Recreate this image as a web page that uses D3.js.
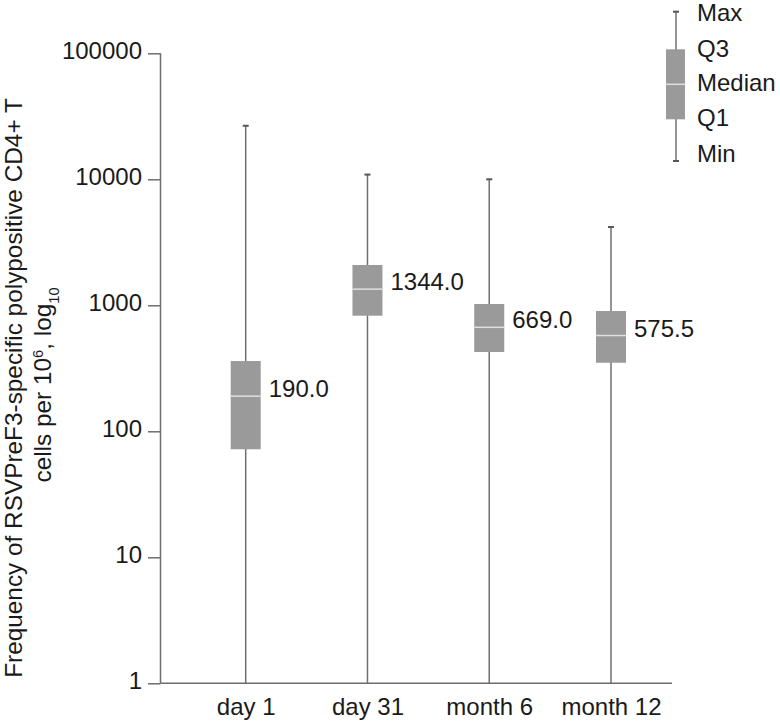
<!DOCTYPE html>
<html><head><meta charset="utf-8">
<script src="https://cdn.jsdelivr.net/npm/d3@7"></script>
<style>body{margin:0;background:#fff}svg{display:block}text{font-family:"Liberation Sans",Arial,sans-serif;fill:#1a1a1a}</style>
</head><body><svg id="c" width="780" height="724"></svg>
<script>
const categories = ["day 1", "day 31", "month 6", "month 12"];
const minVals    = [1, 1, 1, 1];
const q1Vals     = [72, 827, 426, 350];
const medianVals = [190.0, 1344.0, 669.0, 575.5];
const q3Vals     = [361, 2089, 1024, 901];
const maxVals    = [26600, 10900, 10000, 4180];
const yTicks     = [1, 10, 100, 1000, 10000, 100000];
const legendLabels = ["Max", "Q3", "Median", "Q1", "Min"];

const svg = d3.select("#c");
const axisX = 160.5, yBottom = 683.3, yTop = 53.3;
const y = d3.scaleLog().domain([1, 100000]).range([yBottom, yTop]);
const x = d3.scalePoint().domain(categories).range([245.7, 611]);
const axisColor = "#6e6e6e", boxColor = "#9a9a9a", whiskerColor = "#707070";
const fs = 24;

// y axis
const yAxis = d3.axisLeft(y).tickValues(yTicks).tickFormat(d3.format("d")).tickSize(12.5).tickPadding(6);
const gy = svg.append("g").attr("transform", `translate(${axisX},0)`).call(yAxis);
gy.select(".domain").attr("d", `M0,${yTop}V${yBottom}`).attr("stroke", axisColor).attr("stroke-width", 1.5);
gy.selectAll(".tick line").attr("stroke", axisColor).attr("stroke-width", 1.5);
gy.selectAll(".tick text").attr("font-size", fs).attr("dy", "0.2em").style("font-family", "Liberation Sans, Arial, sans-serif").attr("fill", "#1a1a1a");

// x axis
const xAxis = d3.axisBottom(x).tickSize(0).tickPadding(0);
const gx = svg.append("g").attr("transform", `translate(0,${yBottom})`).call(xAxis);
gx.select(".domain").attr("d", `M${axisX},0H672`).attr("stroke", axisColor).attr("stroke-width", 1.5);
gx.selectAll(".tick text").attr("font-size", fs).attr("y", 32).attr("dy", 0).style("font-family", "Liberation Sans, Arial, sans-serif").attr("fill", "#1a1a1a");

// boxes
const data = categories.map((c, i) => ({c, min: minVals[i], q1: q1Vals[i], med: medianVals[i], q3: q3Vals[i], max: maxVals[i]}));
const bw = 30, cw = 6;
const g = svg.append("g");
data.forEach(d => {
  const cx = x(d.c);
  g.append("line").attr("x1", cx).attr("x2", cx).attr("y1", y(d.min)).attr("y2", y(d.max)).attr("stroke", whiskerColor).attr("stroke-width", 1.5);
  g.append("line").attr("x1", cx - cw/2).attr("x2", cx + cw/2).attr("y1", y(d.max)).attr("y2", y(d.max)).attr("stroke", "#555").attr("stroke-width", 2);
  g.append("rect").attr("x", cx - bw/2).attr("width", bw).attr("y", y(d.q3)).attr("height", y(d.q1) - y(d.q3)).attr("fill", boxColor);
  g.append("line").attr("x1", cx - bw/2).attr("x2", cx + bw/2).attr("y1", y(d.med)).attr("y2", y(d.med)).attr("stroke", "#e0e0e0").attr("stroke-width", 1.5);
  g.append("text").attr("x", cx + bw/2 + 8).attr("y", y(d.med) + 1).attr("font-size", fs).text(d3.format(".1f")(d.med));
});

// legend (schematic)
const lg = svg.append("g");
const lx = 676, lTop = 11.7, lQ3 = 49.3, lMed = 84.3, lQ1 = 119.3, lBot = 161;
lg.append("line").attr("x1", lx).attr("x2", lx).attr("y1", lTop).attr("y2", lBot).attr("stroke", whiskerColor).attr("stroke-width", 1.5);
[lTop, lBot].forEach(v => lg.append("line").attr("x1", lx - 3).attr("x2", lx + 3).attr("y1", v).attr("y2", v).attr("stroke", "#555").attr("stroke-width", 2));
lg.append("rect").attr("x", 666).attr("width", 19).attr("y", lQ3).attr("height", lQ1 - lQ3).attr("fill", boxColor);
lg.append("line").attr("x1", 666).attr("x2", 685).attr("y1", lMed).attr("y2", lMed).attr("stroke", "#e0e0e0").attr("stroke-width", 1.5);
const ly = [12, 48, 82, 117, 153];
legendLabels.forEach((t, i) => lg.append("text").attr("x", 697).attr("y", ly[i]).attr("dy", "0.36em").attr("font-size", fs).text(t));

// y title: size fitted so line 1 spans the reference length
const tt = svg.append("text").attr("transform", "translate(21.5,388) rotate(-90)").attr("text-anchor", "middle").attr("font-size", 20);
tt.text("Frequency of RSVPreF3-specific polypositive CD4+ T");
const len20 = tt.node().getComputedTextLength();
const tfs = Math.min(27, 20 * 580 / len20);
tt.attr("font-size", tfs);
const t2 = svg.append("text").attr("transform", "translate(51,385) rotate(-90)").attr("text-anchor", "middle").attr("font-size", tfs);
t2.append("tspan").text("cells per 10");
t2.append("tspan").attr("baseline-shift", "super").attr("font-size", tfs * 0.6).text("6");
t2.append("tspan").text(", log");
t2.append("tspan").attr("baseline-shift", "sub").attr("font-size", tfs * 0.6).text("10");
</script></body></html>
